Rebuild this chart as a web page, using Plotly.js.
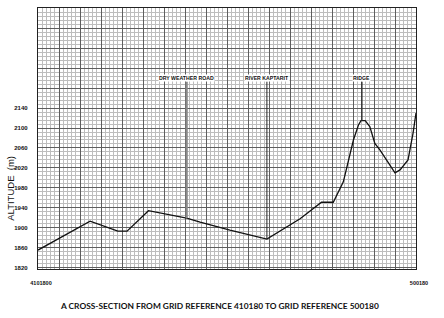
<!DOCTYPE html>
<html>
<head>
<meta charset="utf-8">
<script src="https://cdn.plot.ly/plotly-3.0.1.min.js"></script>
<style>html,body{margin:0;padding:0;background:#fff;}#chart{width:444px;height:318px;}</style>
</head>
<body>
<div id="chart"></div>
<script>
// Distance along section (km from grid ref 410180) and altitude (m)
const distance = [0, 12.4, 19.0, 21.2, 26.3, 35.4, 38.6, 45.7, 54.5, 62.4, 67.5, 70.3, 72.7, 73.5, 75.1, 76.3, 76.9, 77.9, 79.0, 80.2, 81.4, 85.0, 86.2, 88.1, 89.3, 90];
const altitude = [1855, 1913, 1893, 1893, 1934, 1919, 1911, 1895, 1877, 1918, 1951, 1951, 1992, 2022, 2076, 2106, 2115, 2115, 2103, 2069, 2056, 2010, 2016, 2036, 2090, 2130];

const featureNames = ['DRY WEATHER ROAD', 'RIVER KAPTARIT', 'RIDGE'];
const featureDist = [35.4, 54.5, 77.1];
const featureAlt = [1919, 1877, 2115];
const labelAlt = 2193;

const yTickVals = [];
const yTickText = [];
for (let v = 1820; v <= 2340; v += 40) { yTickVals.push(v); yTickText.push(v <= 2140 ? String(v) : ''); }
const xTickVals = [];
const xTickText = [];
for (let v = 0; v <= 90; v += 5) { xTickVals.push(v); xTickText.push(v === 0 ? '4101800' : (v === 90 ? '500180' : '')); }

const title = 'A CROSS-SECTION FROM GRID REFERENCE 410180 TO GRID REFERENCE 500180';

const traces = [{
  x: distance, y: altitude, type: 'scatter', mode: 'lines',
  line: {color: '#111', width: 1.3}, hoverinfo: 'skip', showlegend: false
}];

const featureStyles = [{color: '#8a8a8a', width: 2.2}, {color: '#222', width: 1}, {color: '#333', width: 1.5}];
const annotations = featureNames.map((n, i) => ({
  x: featureDist[i], y: featureAlt[i], xref: 'x', yref: 'y',
  ax: featureDist[i], ay: labelAlt, axref: 'x', ayref: 'y',
  text: '<b>' + n + '</b>', showarrow: true, arrowhead: 0,
  arrowcolor: featureStyles[i].color, arrowwidth: featureStyles[i].width,
  font: {family: 'Liberation Sans, Arial', size: 5.2, color: '#111'},
  bgcolor: '#ffffff', borderpad: 0, yanchor: 'bottom', standoff: 0, startstandoff: 0
}));
annotations.push({
  text: 'ALTITUDE  (m)', xref: 'paper', yref: 'paper', x: -0.075, y: 0.31,
  xanchor: 'center', yanchor: 'middle',
  textangle: -90, showarrow: false, font: {family: 'Liberation Sans, Arial', size: 9.5, color: '#111'}
});
annotations.push({
  text: '<b>' + title + '</b>', xref: 'paper', yref: 'paper', x: 0.481, y: -0.14,
  xanchor: 'center', yanchor: 'middle', showarrow: false,
  font: {family: 'Lato, Liberation Sans', size: 8.4, color: '#111'}
});

const layout = {
  width: 444, height: 318,
  margin: {l: 38, r: 28, t: 8, b: 49},
  paper_bgcolor: '#ffffff', plot_bgcolor: '#ffffff',
  showlegend: false,
  xaxis: {
    range: [0, 90], tickmode: 'array', tickvals: xTickVals, ticktext: xTickText,
    showgrid: true, gridcolor: '#5e5e5e', gridwidth: 1,
    minor: {dtick: 1, tick0: 0, showgrid: true, gridcolor: '#bdbdbd', gridwidth: 1},
    zeroline: false, showline: true, linecolor: '#222', linewidth: 1.2, mirror: true,
    ticks: '', ticklabelstandoff: 8, ticklabelshift: 3,
    tickfont: {family: 'Liberation Sans, Arial', size: 5.5, color: '#111', weight: 'bold'}
  },
  yaxis: {
    range: [1817, 2341], tickmode: 'array', tickvals: yTickVals, ticktext: yTickText,
    showgrid: true, gridcolor: '#5e5e5e', gridwidth: 1,
    minor: {dtick: 8, tick0: 1820, showgrid: true, gridcolor: '#bdbdbd', gridwidth: 1},
    zeroline: false, showline: true, linecolor: '#222', linewidth: 1.2, mirror: true,
    ticks: '', ticklabelstandoff: 8,
    tickfont: {family: 'Liberation Sans, Arial', size: 6, color: '#111', weight: 'bold'}
  },
  annotations: annotations
};

Plotly.newPlot('chart', traces, layout, {staticPlot: true, displayModeBar: false});
</script>
</body>
</html>
